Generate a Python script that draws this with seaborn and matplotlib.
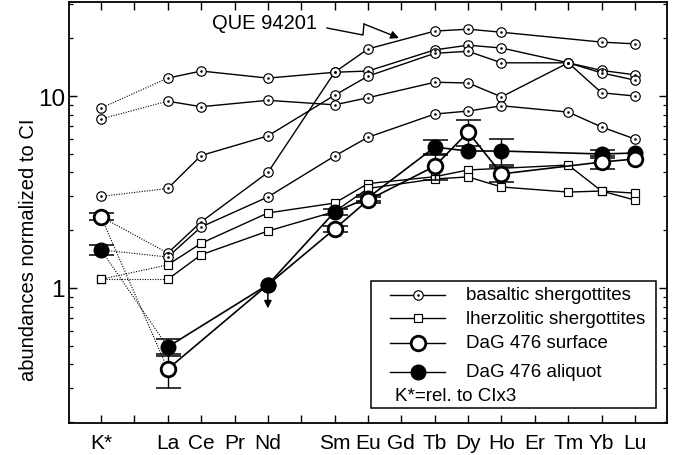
import numpy as np
import pandas as pd
import matplotlib
matplotlib.use("Agg")
import matplotlib.pyplot as plt
from matplotlib.patches import Rectangle
from matplotlib.ticker import LogLocator, FuncFormatter, NullFormatter
from matplotlib.transforms import offset_copy
import seaborn as sns

nan = np.nan

# ---------------- data ----------------
elements = ["K*", "La", "Ce", "Pr", "Nd", "Sm", "Eu", "Gd", "Tb", "Dy", "Ho", "Er", "Tm", "Yb", "Lu"]

basaltic_1 = [8.66, 12.4, 13.5, nan, 12.4, 13.3, 13.5, nan, 17.4, 18.4, 17.8, nan, 14.9, 13.6, 12.9]
basaltic_2 = [7.6, 9.4, 8.8, nan, 9.5, 9.0, 9.8, nan, 11.8, 11.7, 9.9, nan, 14.9, 10.4, 10.0]
basaltic_3 = [3.0, 3.3, 4.9, nan, 6.2, 10.1, 12.7, nan, 16.7, 17.1, 14.9, nan, 14.9, 13.2, 12.1]
que_94201 = [2.35, 1.52, 2.21, nan, 4.0, 13.3, 17.6, nan, 21.8, 22.3, 21.5, nan, nan, 19.1, 18.7]
basaltic_5 = [1.58, 1.45, 2.08, nan, 2.98, 4.87, 6.1, nan, 8.06, 8.35, 8.9, nan, 8.25, 6.9, 5.97]

lherzolitic_1 = [1.11, 1.32, 1.71, nan, 2.46, 2.77, 3.5, nan, 3.8, 4.12, nan, nan, 4.37, 3.2, 2.87]
lherzolitic_2 = [1.11, 1.11, 1.49, nan, 1.98, 2.5, 3.3, nan, 3.7, 3.79, 3.36, nan, 3.16, 3.2, 3.12]

dag_surface = [2.35, 0.378, nan, nan, 1.04, 2.03, 2.87, nan, 4.31, 6.49, 3.93, nan, nan, 4.53, 4.70]
dag_surface_err = [0.1, 0.075, 0, 0, 0, 0.08, 0.1, 0, 0.65, 1.0, 0.35, 0, 0, 0.36, 0]
dag_aliquot = [1.58, 0.493, nan, nan, 1.04, 2.49, 2.95, nan, 5.42, 5.17, 5.17, nan, nan, 4.99, 5.05]
dag_aliquot_err = [0.1, 0.05, 0, 0, 0, 0.08, 0.1, 0, 0.5, 0, 0.8, 0, 0, 0.25, 0]
limit_element = "Nd"

legend_labels = ["basaltic shergottites", "lherzolitic shergottites",
                 "DaG 476 surface", "DaG 476 aliquot"]
note_text = "K*=rel. to CIx3"
que_label = "QUE 94201"
y_label = "abundances normalized to CI"

# ---------------- layout ----------------
plt.rcParams["font.family"] = ["Liberation Sans", "DejaVu Sans"]

gaps_after = {"K*": 1, "Nd": 1}
pos = []
p = 0
for el in elements:
    pos.append(p)
    p += 1 + gaps_after.get(el, 0)
n_slots = p

fig = plt.figure(figsize=(6.75, 4.56), dpi=100)
ax = fig.add_axes([69 / 675, (456 - 424) / 456, 598 / 675, 421 / 456])
ax.set_yscale("log")

styles = {
    "basaltic": dict(marker="o", markersize=6.8, markerfacecolor="white",
                     markeredgecolor="black", markeredgewidth=0.85),
    "lherz": dict(marker="s", markersize=6.4, markerfacecolor="white",
                  markeredgecolor="black", markeredgewidth=0.85),
    "surface": dict(marker="o", markersize=10.5, markerfacecolor="white",
                    markeredgecolor="black", markeredgewidth=2.0),
    "aliquot": dict(marker="o", markersize=10.5, markerfacecolor="black",
                    markeredgecolor="black", markeredgewidth=1.0),
}
dot_style = dict(marker="o", markersize=1.5, markerfacecolor="black",
                 markeredgecolor="black", markeredgewidth=0.3)


def draw_series(vals, style, z, dot=False, err=None, skip_marker=(), lw=1.0):
    d = pd.DataFrame({"element": elements, "pos": pos, "value": vals})
    if err is not None:
        d["err"] = err
    d = d.dropna(subset=["value"])
    solid = d[d.element != "K*"]
    sns.lineplot(data=solid, x="pos", y="value", estimator=None, sort=False,
                 color="black", linewidth=lw, ax=ax, zorder=z)
    if "K*" in d.element.values and "La" in d.element.values:
        sns.lineplot(data=d[d.element.isin(["K*", "La"])], x="pos", y="value",
                     estimator=None, sort=False, color="black", linewidth=0.8,
                     linestyle=(0, (1, 1.3)), ax=ax, zorder=z)
    if err is not None:
        e = d[d.err > 0]
        ax.errorbar(e.pos, e.value, yerr=e.err, fmt="none", ecolor="black",
                    elinewidth=1.0, capsize=9, capthick=1.1, zorder=z + 0.2)
    mk = d[~d.element.isin(skip_marker)]
    sns.lineplot(data=mk, x="pos", y="value", estimator=None, sort=False,
                 color="black", linestyle="none", ax=ax, zorder=z + 0.5, **style)
    if dot:
        sns.lineplot(data=mk, x="pos", y="value", estimator=None, sort=False,
                     color="black", linestyle="none", ax=ax, zorder=z + 0.6,
                     **dot_style)


for i, s in enumerate([basaltic_1, basaltic_2, basaltic_3, que_94201, basaltic_5]):
    draw_series(s, styles["basaltic"], 2 + i * 0.01, dot=True)
for i, s in enumerate([lherzolitic_1, lherzolitic_2]):
    draw_series(s, styles["lherz"], 3 + i * 0.01)
draw_series(dag_aliquot, styles["aliquot"], 4, err=dag_aliquot_err, lw=1.2)
draw_series(dag_surface, styles["surface"], 5, err=dag_surface_err,
            skip_marker=(limit_element,), lw=1.2)

# upper limit point (Nd) with downward arrow
li = elements.index(limit_element)
lx, ly = pos[li], dag_aliquot[li]
tip = offset_copy(ax.transData, fig=fig, y=-17, units="points")
ax.annotate("", xy=(lx, ly), xycoords=tip, xytext=(lx, ly), textcoords="data",
            arrowprops=dict(arrowstyle="-|>", color="black", lw=1.1,
                            mutation_scale=11, shrinkA=0, shrinkB=0),
            zorder=6)
ax.plot([lx], [ly], linestyle="none", zorder=6.5, **styles["aliquot"])

# axes
ax.set_xlim(-0.96, n_slots - 1 + 0.96)
ax.set_ylim(0.198, 30.9)
ticks = list(range(n_slots))
tick_labels = [""] * n_slots
for el, pp in zip(elements, pos):
    tick_labels[pp] = el
ax.set_xticks(ticks)
ax.set_xticklabels(tick_labels, fontsize=15)
ax.yaxis.set_major_locator(LogLocator(base=10))
ax.yaxis.set_minor_locator(LogLocator(base=10, subs=np.arange(2, 10)))
ax.yaxis.set_major_formatter(FuncFormatter(lambda v, _: f"{v:g}"))
ax.yaxis.set_minor_formatter(NullFormatter())
ax.tick_params(axis="both", which="major", direction="in", top=True, right=True,
               length=5.5, width=1.0)
ax.tick_params(axis="y", which="minor", direction="in", right=True, left=True,
               length=3, width=0.9)
ax.tick_params(axis="x", which="major", pad=7, labelsize=15)
ax.tick_params(axis="y", which="major", pad=3, labelsize=17.5)
for sp in ax.spines.values():
    sp.set_linewidth(1.3)
ax.set_xlabel("")
ax.set_ylabel(y_label, fontsize=14.5)
ax.yaxis.set_label_coords(-0.052, 0.415)

# QUE 94201 label with lightning arrow
ax.text(0.2391, 0.9382, que_label, transform=ax.transAxes, fontsize=14.5,
        ha="left", va="baseline")
ax.plot([0.4314, 0.4916, 0.4933], [0.9382, 0.9216, 0.9477],
        transform=ax.transAxes, color="black", lw=1.0, clip_on=False)
ax.annotate("", xy=(0.5518, 0.9145), xycoords="axes fraction",
            xytext=(0.4933, 0.9477), textcoords="axes fraction",
            arrowprops=dict(arrowstyle="-|>", color="black", lw=1.0,
                            mutation_scale=12, shrinkA=0, shrinkB=0))


# ---------------- legend (manual) ----------------
def ax_xy(px, py):
    return (px - 69) / 598, (424 - py) / 421


x0, y0 = ax_xy(371, 409)
x1, y1 = ax_xy(656, 282)
ax.add_patch(Rectangle((x0, y0), x1 - x0, y1 - y0, transform=ax.transAxes,
                       facecolor="white", edgecolor="black", lw=1.1, zorder=10))
rows = [296, 319, 344, 373]
hx0, _ = ax_xy(390, 0)
hx1, _ = ax_xy(445, 0)
hxm, _ = ax_xy(418, 0)
tx, _ = ax_xy(466, 0)
for lab, key, ry in zip(legend_labels, ["basaltic", "lherz", "surface", "aliquot"], rows):
    _, yy = ax_xy(0, ry)
    ax.plot([hx0, hx1], [yy, yy], transform=ax.transAxes, color="black", lw=1.0,
            zorder=11, clip_on=False)
    ax.plot([hxm], [yy], transform=ax.transAxes, linestyle="none", zorder=12,
            clip_on=False, **styles[key])
    if key == "basaltic":
        ax.plot([hxm], [yy], transform=ax.transAxes, linestyle="none", zorder=13,
                clip_on=False, **dot_style)
    ax.text(tx, yy, lab, transform=ax.transAxes, fontsize=13.5, ha="left",
            va="center", zorder=12)
nx, ny = ax_xy(395, 397)
ax.text(nx, ny, note_text, transform=ax.transAxes, fontsize=13.5, ha="left",
        va="center", zorder=12)

fig.savefig("out.png", dpi=100)
